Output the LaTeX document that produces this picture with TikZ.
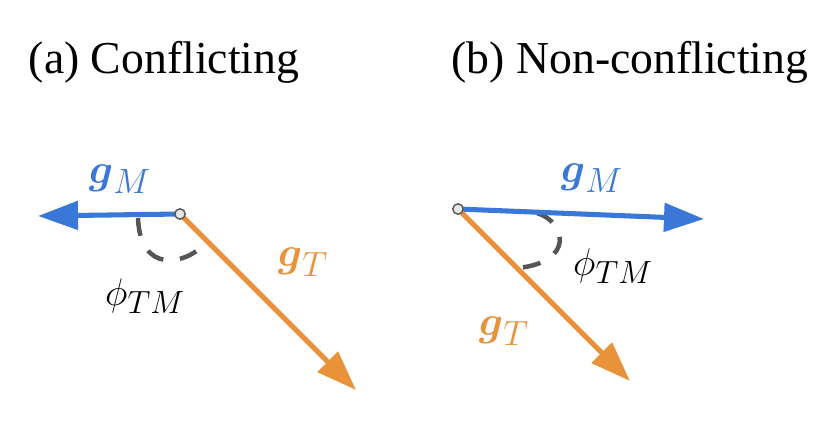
\documentclass[tikz,border=0pt]{standalone}
\usepackage{amsmath}
\usepackage{graphicx}
\usepackage{fontspec}
\setmainfont{Liberation Serif}
\usetikzlibrary{arrows.meta}
\definecolor{gmblue}{RGB}{58,120,216}
\definecolor{gtorange}{RGB}{232,146,58}
\definecolor{arcgray}{RGB}{85,85,85}
\newcommand{\biglabel}[2]{\scalebox{#1}{$#2$}}
\begin{document}
\begin{tikzpicture}[x=0.025cm,y=-0.025cm,
    vec/.style={line width=3.6pt,-{Triangle[length=1cm,width=0.7cm]}},
    angle arc/.style={draw=arcgray,line width=3.2pt,dash pattern=on 0.45cm off 0.42cm},
    origin/.style={circle,draw=arcgray,fill=gray!20,line width=1pt,inner sep=0pt,minimum size=0.26cm},
    title/.style={anchor=base,font=\fontsize{32.5}{36}\selectfont},
    glabel/.style={font=\fontsize{24.88}{30}\selectfont},
    philabel/.style={font=\fontsize{24.88}{30}\selectfont}]
          \useasboundingbox (0,0) rectangle (829,432);

          % (a) conflicting
          \node[title] (ta) at (164,74) {(a) Conflicting};
          \coordinate (o1) at (180,214);
          \coordinate (m1) at (38,216);
          \coordinate (t1) at (356,390);
          \draw[angle arc] (138,218) .. controls (140,274) and (185,266) .. (207,242);
          \draw[vec,gmblue] (o1) -- (m1);
          \draw[vec,gtorange] (o1) -- (t1);
          \node[origin] (p1) at (o1) {};
          \node[glabel,text=gmblue] (gm1) at (120,179) {\biglabel{1.2}{\boldsymbol{g}_M}};
          \node[glabel,text=gtorange] (gt1) at (303,262) {\biglabel{1.2}{\boldsymbol{g}_T}};
          \node[philabel] (phi1) at (145,296) {\biglabel{1.1}{\phi_{TM}}};

          % (b) non-conflicting
          \node[title] (tb) at (630,74) {(b) Non-conflicting};
          \coordinate (o2) at (458,209);
          \coordinate (m2) at (704,219);
          \coordinate (t2) at (630,381);
          \draw[angle arc] (537,213) .. controls (566,222) and (575,262) .. (518,268);
          \draw[vec,gmblue] (o2) -- (m2);
          \draw[vec,gtorange] (o2) -- (t2);
          \node[origin] (p2) at (o2) {};
          \node[glabel,text=gmblue] (gm2) at (592,178) {\biglabel{1.2}{\boldsymbol{g}_M}};
          \node[glabel,text=gtorange] (gt2) at (504,331) {\biglabel{1.2}{\boldsymbol{g}_T}};
          \node[philabel] (phi2) at (613,266) {\biglabel{1.1}{\phi_{TM}}};

        \end{tikzpicture}
\end{document}
